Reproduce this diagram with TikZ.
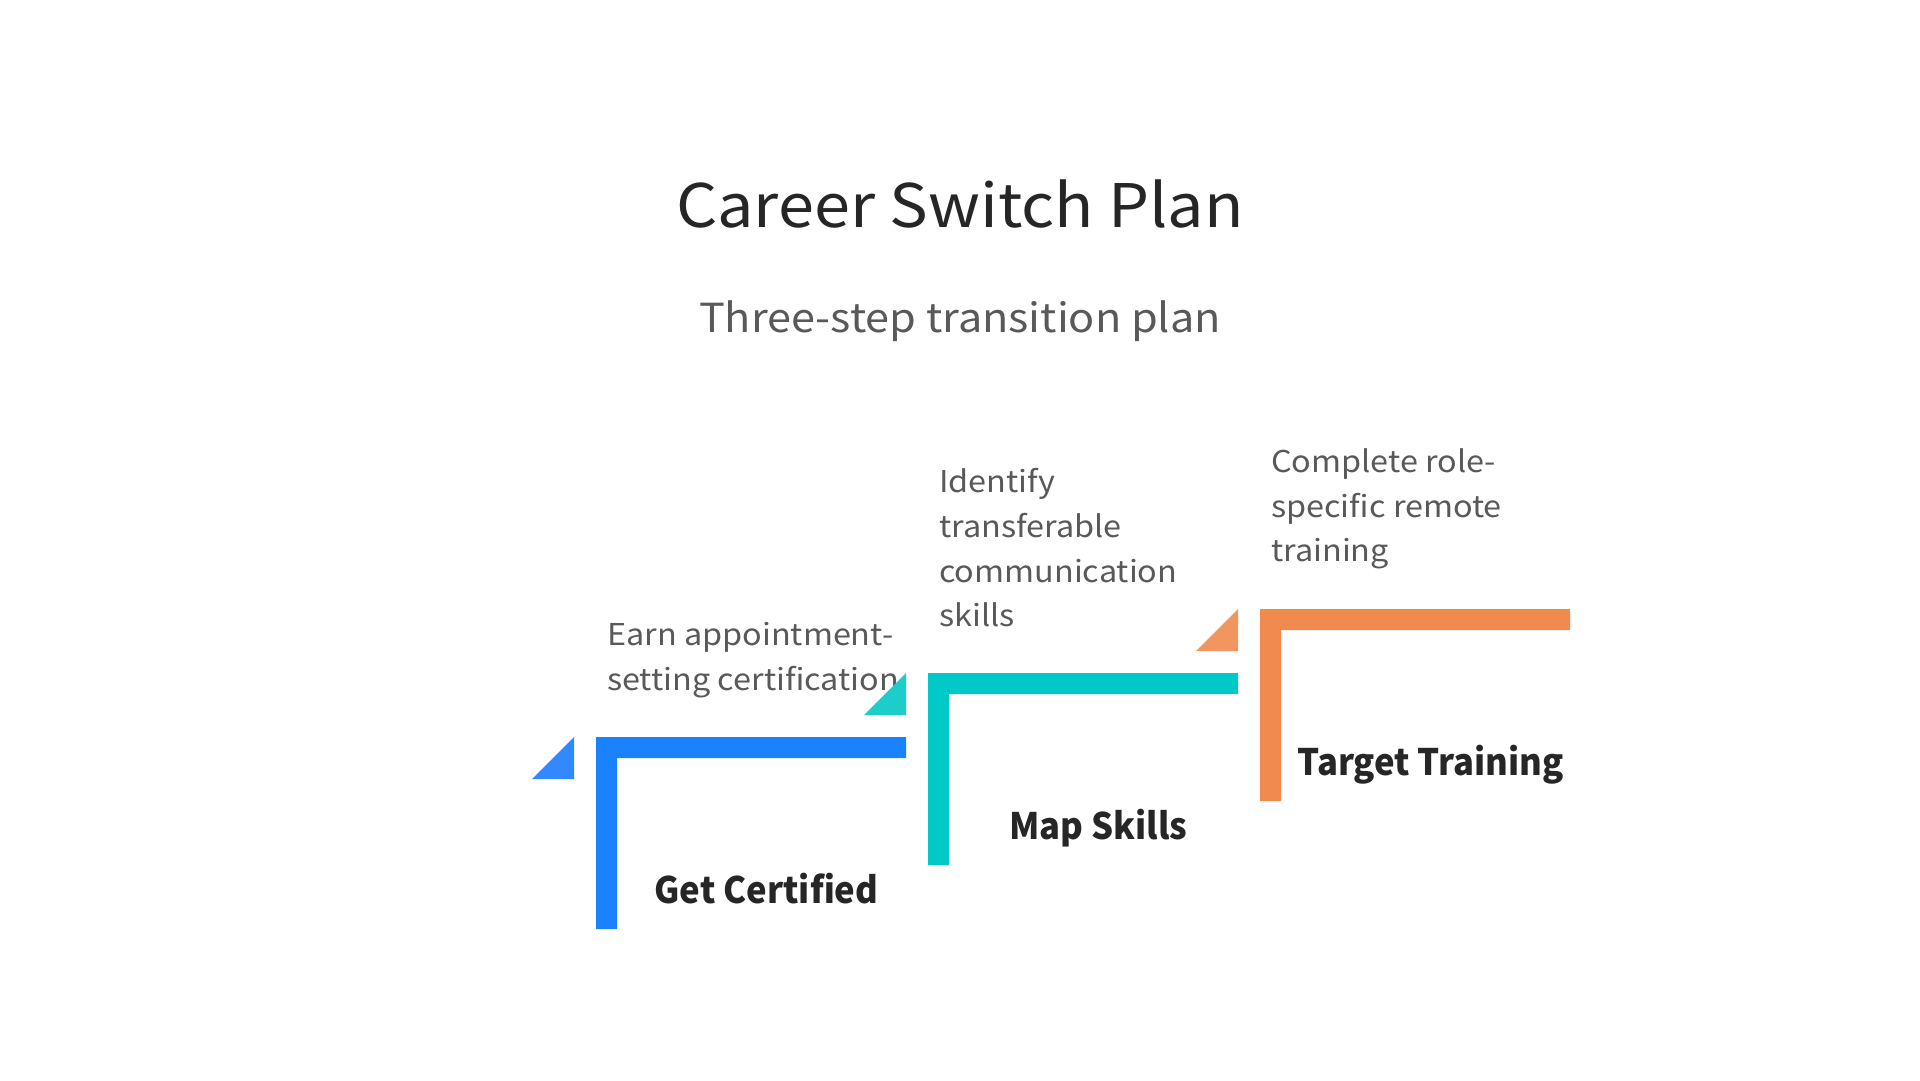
\documentclass[tikz,border=0pt]{standalone}
\usepackage{fontspec}
\setmainfont[FakeStretch=1.08]{Noto Sans CJK SC}
\newfontfamily\labelfont[FakeStretch=0.95]{Noto Sans CJK SC}
\definecolor{blueL}{HTML}{1A82FF}
\definecolor{blueT}{HTML}{3289FF}
\definecolor{tealL}{HTML}{00C9C7}
\definecolor{tealT}{HTML}{1CCDCA}
\definecolor{orangeL}{HTML}{F08A4F}
\definecolor{orangeT}{HTML}{F2965F}
\definecolor{titlegray}{HTML}{262626}
\definecolor{subgray}{HTML}{595959}
\tikzset{
  titletext/.style={font=\fontsize{60}{72}\selectfont, text=titlegray, inner sep=0pt, anchor=base},
  subtext/.style={font=\fontsize{40}{48}\selectfont, text=subgray, inner sep=0pt, anchor=base},
  desctext/.style={font=\fontsize{30}{44.7}\selectfont, text=subgray, inner sep=0pt, anchor=base west, align=left},
  labeltext/.style={font=\labelfont\fontsize{36.5}{44}\selectfont\bfseries, text=titlegray, inner sep=0pt, anchor=base},
}
\begin{document}
\begin{tikzpicture}[x=1pt,y=-1pt]
\useasboundingbox (0,0) rectangle (1920,1080);
\fill[white] (0,0) rectangle (1920,1080);
% title
\node[titletext] (title) at (960,227.7) {Career Switch Plan};
\node[subtext] (subtitle) at (960,332.3) {Three-step transition plan};
% step 1
\fill[blueT] (532,779) -- (574,737) -- (574,779) -- cycle;
\fill[blueL] (596,929) -- (596,737) -- (906,737) -- (906,758) -- (617,758) -- (617,929) -- cycle;
\node[desctext] (d1) at (607,690) {Earn appointment-\\setting certification};
\node[labeltext] (l1) at (766.5,903) {Get Certified};
% step 2
\fill[tealT] (864,715) -- (906,673) -- (906,715) -- cycle;
\fill[tealL] (928,865) -- (928,673) -- (1238,673) -- (1238,694) -- (949,694) -- (949,865) -- cycle;
\node[desctext] (d2) at (939,626.7) {Identify\\transferable\\communication\\skills};
\node[labeltext] (l2) at (1098.5,839) {Map Skills};
% step 3
\fill[orangeT] (1196,651) -- (1238,609) -- (1238,651) -- cycle;
\fill[orangeL] (1260,801) -- (1260,609) -- (1570,609) -- (1570,630) -- (1281,630) -- (1281,801) -- cycle;
\node[desctext] (d3) at (1271,561.7) {Complete role-\\specific remote\\training};
\node[labeltext] (l3) at (1430.5,775) {Target Training};
\end{tikzpicture}
\end{document}
